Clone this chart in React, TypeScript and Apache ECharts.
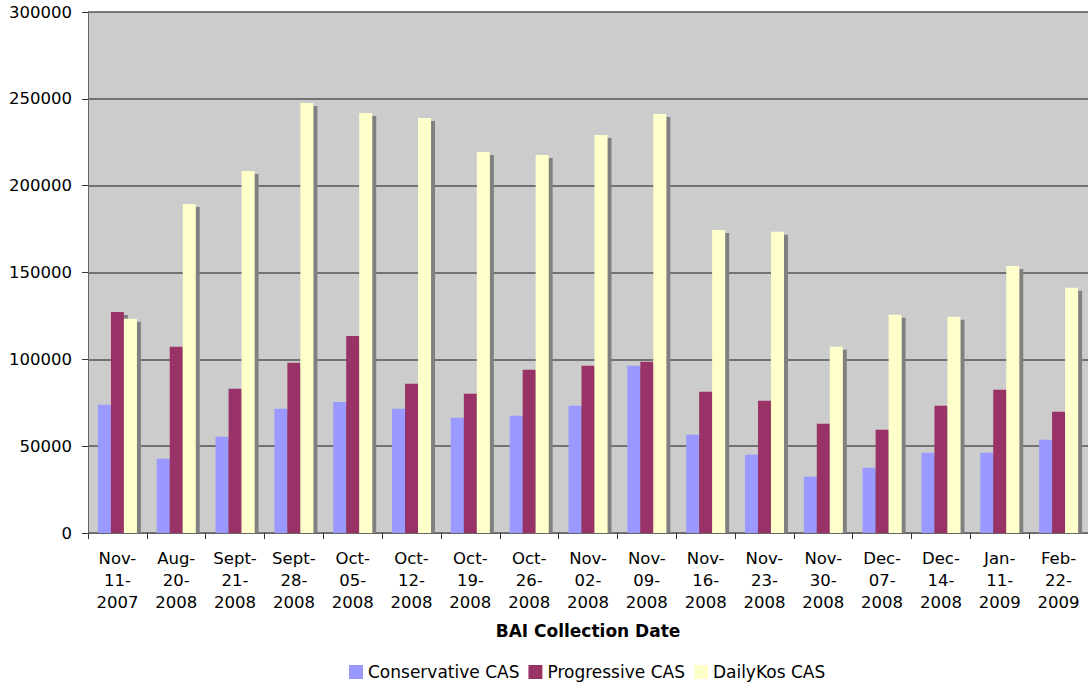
import React, { useEffect, useRef } from "react";
import * as echarts from "echarts";

// Collection dates (one per category) and the three CAS series
const categories = [
  "Nov-\n11-\n2007", "Aug-\n20-\n2008", "Sept-\n21-\n2008", "Sept-\n28-\n2008",
  "Oct-\n05-\n2008", "Oct-\n12-\n2008", "Oct-\n19-\n2008", "Oct-\n26-\n2008",
  "Nov-\n02-\n2008", "Nov-\n09-\n2008", "Nov-\n16-\n2008", "Nov-\n23-\n2008",
  "Nov-\n30-\n2008", "Dec-\n07-\n2008", "Dec-\n14-\n2008", "Jan-\n11-\n2009",
  "Feb-\n22-\n2009",
];

const conservativeCAS = [
  73800, 42800, 55400, 71500, 75500, 71500, 66300, 67500, 73300,
  96300, 56600, 45100, 32400, 37600, 46200, 46200, 53700,
];

const progressiveCAS = [
  127300, 107200, 83000, 98000, 113500, 85900, 80200, 94000, 96300,
  98600, 81300, 76100, 62900, 59400, 73300, 82500, 69800,
];

const dailyKosCAS = [
  123300, 189500, 208500, 247600, 241800, 239000, 219400, 217700, 229200,
  241300, 174500, 173400, 107200, 125600, 124500, 153800, 141200,
];

const yTicks = { min: 0, max: 300000, interval: 50000 };

const FONT = "'DejaVu Sans', Verdana, sans-serif";

const barStyle = (color: string) => ({
  color,
  shadowColor: "#808080",
  shadowBlur: 0,
  shadowOffsetX: 4,
  shadowOffsetY: 3,
});

export default function App() {
  const ref = useRef<HTMLDivElement>(null);

  useEffect(() => {
    if (!ref.current) return;
    const chart = echarts.init(ref.current, undefined, { renderer: "svg" });
    chart.setOption({
      animation: false,
      backgroundColor: "#ffffff",
      textStyle: { fontFamily: FONT },
      grid: {
        left: 88,
        right: 0,
        top: 12,
        bottom: 154,
        show: true,
        backgroundColor: "#cccccc",
        borderWidth: 0,
      },
      legend: {
        left: 349,
        top: 662,
        padding: 0,
        itemWidth: 14,
        itemHeight: 14,
        itemGap: 9,
        icon: "rect",
        textStyle: { fontFamily: FONT, fontSize: 17, lineHeight: 20, color: "#000" },
        data: ["Conservative CAS", "Progressive CAS", "DailyKos CAS"],
      },
      xAxis: {
        type: "category",
        data: categories,
        z: 10,
        axisLine: { lineStyle: { color: "#666666", width: 1 } },
        axisTick: { show: true, length: 6, lineStyle: { color: "#333333" } },
        axisLabel: {
          interval: 0,
          margin: 15,
          fontFamily: FONT,
          fontSize: 16.5,
          lineHeight: 21.7,
          color: "#000",
        },
      },
      yAxis: {
        type: "value",
        min: yTicks.min,
        max: yTicks.max,
        interval: yTicks.interval,
        axisLine: { show: true, lineStyle: { color: "#666666", width: 1 } },
        axisTick: { show: true, length: 6, lineStyle: { color: "#333333" } },
        splitLine: { show: true, lineStyle: { color: "#555555", width: 1.5 } },
        axisLabel: {
          margin: 16,
          fontFamily: FONT,
          fontSize: 16.5,
          color: "#000",
          formatter: (v: number) => String(v),
        },
      },
      graphic: [
        {
          // keeps bar shadows from spilling below the category axis
          type: "rect",
          z: 5,
          shape: { x: 88, y: 534, width: 1000, height: 5 },
          style: { fill: "#ffffff" },
        },
        {
          type: "text",
          x: 588,
          y: 631,
          style: {
            text: "BAI Collection Date",
            fontFamily: FONT,
            fontSize: 17,
            fontWeight: "bold",
            fill: "#000",
            textAlign: "center",
            textVerticalAlign: "middle",
          },
        },
      ],
      series: [
        {
          name: "Conservative CAS",
          type: "bar",
          data: conservativeCAS,
          barWidth: 13,
          barGap: "0%",
          itemStyle: barStyle("#9999ff"),
        },
        {
          name: "Progressive CAS",
          type: "bar",
          data: progressiveCAS,
          barWidth: 13,
          barGap: "0%",
          itemStyle: barStyle("#993366"),
        },
        {
          name: "DailyKos CAS",
          type: "bar",
          data: dailyKosCAS,
          barWidth: 13,
          barGap: "0%",
          itemStyle: barStyle("#ffffcc"),
        },
      ],
    });
    return () => chart.dispose();
  }, []);

  return (
    <div
      ref={ref}
      style={{ position: "fixed", left: 0, top: 0, width: 1088, height: 687 }}
    />
  );
}
